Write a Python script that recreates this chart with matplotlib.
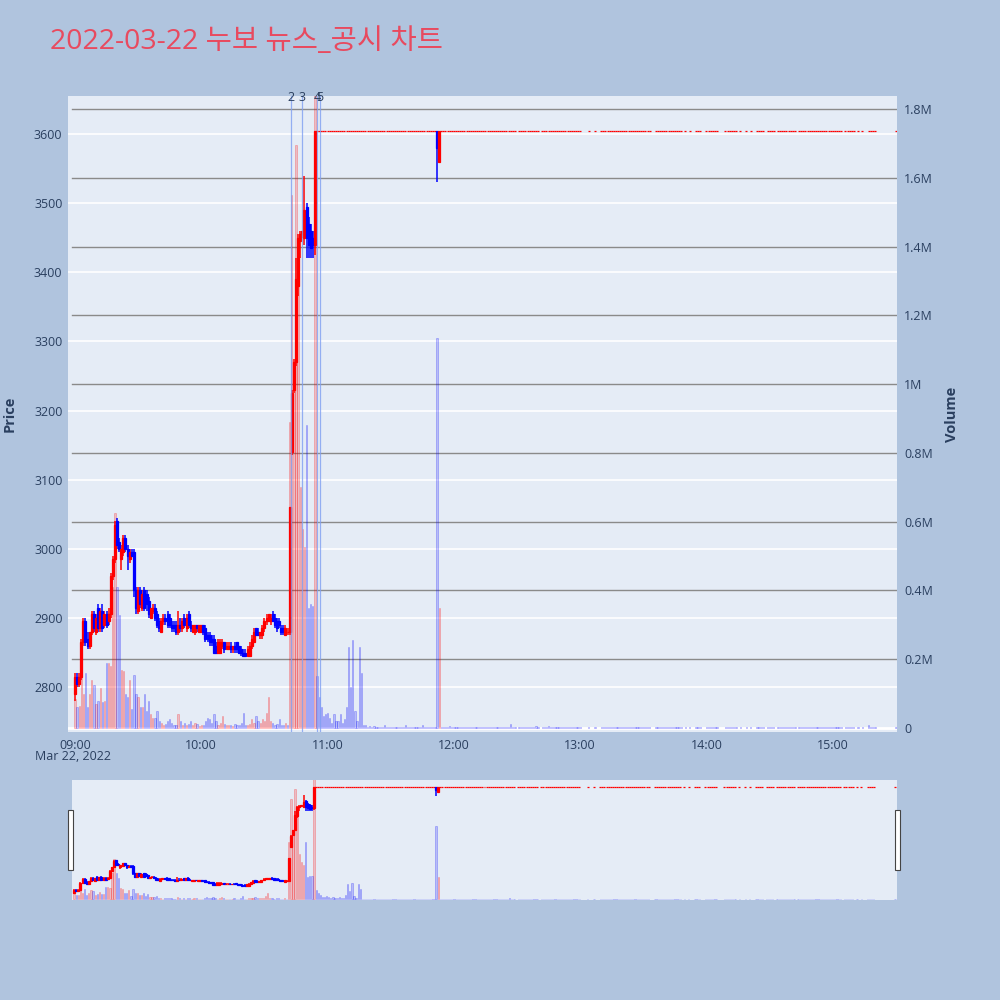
import numpy as np
import matplotlib
matplotlib.use('Agg')
import matplotlib.pyplot as plt
from matplotlib.patches import Rectangle
from matplotlib.lines import Line2D
from matplotlib.ticker import FuncFormatter
from matplotlib.transforms import blended_transform_factory

plt.rcParams['font.family'] = ['Open Sans', 'Noto Sans CJK KR', 'DejaVu Sans']

title = '2022-03-22 누보 뉴스_공시 차트'

# minute candles from 09:00 (open, high, low, close)
morning_ohlc = [
    (2790, 2820, 2780, 2815), (2815, 2820, 2800, 2805), (2805, 2820, 2800, 2815),
    (2815, 2870, 2810, 2865), (2865, 2900, 2860, 2895), (2895, 2900, 2860, 2865),
    (2870, 2880, 2855, 2860), (2860, 2880, 2855, 2880), (2880, 2910, 2875, 2905),
    (2905, 2910, 2880, 2885), (2880, 2905, 2875, 2900), (2915, 2920, 2880, 2885),
    (2885, 2915, 2880, 2910), (2910, 2920, 2880, 2885), (2890, 2910, 2885, 2905),
    (2905, 2910, 2885, 2890), (2895, 2915, 2890, 2905), (2905, 2965, 2900, 2960),
    (2960, 2990, 2955, 2985), (2985, 3040, 2980, 3035), (3040, 3045, 3000, 3005),
    (3010, 3015, 2995, 3000), (2985, 3005, 2970, 3000), (2995, 3020, 2990, 3015),
    (3015, 3020, 2995, 3000), (3000, 3005, 2970, 2990), (2985, 3000, 2980, 2995),
    (2995, 3000, 2990, 2990), (2995, 3000, 2930, 2940), (2940, 2945, 2905, 2915),
    (2910, 2945, 2905, 2940), (2940, 2945, 2915, 2920), (2915, 2940, 2910, 2935),
    (2940, 2945, 2910, 2915), (2935, 2940, 2910, 2920), (2925, 2930, 2900, 2905),
    (2900, 2915, 2900, 2915), (2910, 2920, 2905, 2915), (2915, 2920, 2895, 2900),
    (2905, 2910, 2885, 2890), (2895, 2900, 2880, 2885), (2880, 2900, 2880, 2895),
    (2895, 2905, 2890, 2900), (2900, 2905, 2890, 2895), (2905, 2910, 2885, 2890),
    (2900, 2905, 2885, 2890), (2890, 2895, 2880, 2885), (2890, 2895, 2880, 2885),
    (2890, 2895, 2875, 2880), (2880, 2910, 2875, 2890), (2890, 2900, 2880, 2885),
    (2885, 2900, 2880, 2895), (2900, 2905, 2885, 2890), (2885, 2905, 2880, 2900),
    (2905, 2910, 2885, 2890), (2890, 2895, 2880, 2885), (2880, 2890, 2880, 2890),
    (2880, 2890, 2875, 2890), (2890, 2890, 2880, 2885), (2880, 2890, 2880, 2890),
    (2880, 2890, 2880, 2890), (2890, 2890, 2875, 2880), (2885, 2890, 2865, 2870),
    (2875, 2880, 2865, 2870), (2875, 2880, 2860, 2865), (2870, 2875, 2860, 2865),
    (2870, 2875, 2850, 2850), (2860, 2865, 2850, 2850), (2850, 2870, 2850, 2865),
    (2850, 2870, 2850, 2865), (2860, 2870, 2855, 2865), (2865, 2865, 2850, 2855),
    (2855, 2865, 2855, 2860), (2855, 2865, 2855, 2860), (2860, 2865, 2850, 2855),
    (2855, 2860, 2850, 2860), (2860, 2865, 2850, 2855), (2865, 2865, 2850, 2855),
    (2860, 2860, 2850, 2850), (2855, 2860, 2845, 2850), (2850, 2855, 2845, 2845),
    (2850, 2855, 2845, 2845), (2845, 2860, 2845, 2855), (2845, 2865, 2845, 2860),
    (2860, 2875, 2855, 2870), (2865, 2885, 2865, 2880), (2885, 2885, 2875, 2875),
    (2880, 2885, 2875, 2875), (2875, 2880, 2870, 2880), (2875, 2890, 2870, 2885),
    (2885, 2900, 2880, 2895), (2895, 2905, 2890, 2900), (2895, 2905, 2895, 2905),
    (2895, 2905, 2890, 2900), (2905, 2910, 2895, 2895), (2900, 2905, 2885, 2890),
    (2895, 2900, 2880, 2885), (2895, 2900, 2885, 2890), (2885, 2890, 2875, 2880),
    (2885, 2890, 2875, 2880), (2875, 2890, 2875, 2885), (2880, 2885, 2875, 2880),
]
# volume in thousand shares
morning_vol = [
    85, 60, 65, 170, 100, 160, 60, 100, 140, 125, 70, 80, 115, 75, 80, 190, 190,
    180, 410, 625, 410, 330, 170, 165, 100, 90, 140, 55, 155, 100, 90, 60, 60,
    100, 50, 80, 40, 30, 30, 50, 20, 15, 10, 12, 20, 25, 15, 10, 8, 40, 20, 10,
    15, 8, 12, 20, 10, 15, 12, 5, 10, 8, 20, 30, 25, 15, 40, 20, 10, 15, 35, 12,
    10, 8, 10, 5, 12, 8, 10, 15, 45, 10, 8, 12, 25, 15, 35, 20, 15, 25, 20, 45,
    90, 20, 15, 10, 12, 25, 10, 8, 15, 10,
]

# 10:42 - 10:54 surge to the upper limit
spike_ohlc = [
    (2880, 3060, 2875, 3060), (3140, 3230, 3135, 3225), (3230, 3275, 3225, 3270),
    (3270, 3420, 3265, 3390), (3380, 3455, 3365, 3450), (3445, 3460, 3420, 3455),
    (3455, 3460, 3450, 3460), (3450, 3540, 3440, 3490), (3495, 3500, 3420, 3450),
    (3470, 3480, 3420, 3440), (3460, 3470, 3420, 3435), (3450, 3460, 3420, 3440),
    (3440, 3605, 3425, 3605),
]
spike_vol = [890, 1550, 1000, 1695, 1400, 700, 580, 525, 880, 350, 360, 355, 2000]

# trades at the upper limit afterwards (minute ranges from 09:00)
limit_price = 3605
limit_segments = [(115, 209), (211, 220), (222, 240), (244, 244), (247, 247),
                  (250, 273), (276, 288), (290, 290), (292, 292), (295, 297),
                  (300, 305), (309, 314), (316, 316), (319, 319), (321, 321),
                  (324, 327), (329, 332), (334, 342), (344, 364), (366, 370),
                  (372, 372), (374, 374), (377, 380), (390, 390)]
limit_vol = {115: 150, 116: 90, 117: 60, 118: 35, 119: 40, 120: 45, 121: 30,
             122: 15, 123: 40, 124: 20, 125: 20, 126: 40, 127: 15, 128: 25,
             129: 60, 130: 235, 131: 120, 132: 256, 133: 50, 134: 20, 135: 235,
             136: 160, 137: 10, 138: 8, 140: 5, 142: 6, 147: 10, 157: 8, 165: 8,
             178: 5, 207: 12, 219: 6, 225: 5, 377: 8}
small_vol = 2

# 11:52 dip off the limit
dip_minutes = [172, 173]
dip_ohlc = [(3605, 3605, 3530, 3580), (3560, 3605, 3560, 3605)]
dip_vol = [1134, 349]

news_minutes = [102.5, 107.8, 115.2, 116.5]
news_labels = ['2', '3', '4', '5']

hour_ticks = [0, 60, 120, 180, 240, 300, 360]
hour_labels = ['09:00', '10:00', '11:00', '12:00', '13:00', '14:00', '15:00']

# ---- assemble
t, o, h, l, c, v = [], [], [], [], [], []
for i, (a, b, d, e) in enumerate(morning_ohlc + spike_ohlc):
    t.append(i); o.append(a); h.append(b); l.append(d); c.append(e)
v += morning_vol + spike_vol
for s, e in limit_segments:
    for m in range(s, e + 1):
        if m in dip_minutes:
            continue
        t.append(m); o.append(limit_price); h.append(limit_price)
        l.append(limit_price); c.append(limit_price)
        v.append(limit_vol.get(m, small_vol))
for m, (a, b, d, e), vv in zip(dip_minutes, dip_ohlc, dip_vol):
    t.append(m); o.append(a); h.append(b); l.append(d); c.append(e); v.append(vv)

t = np.array(t, float); o = np.array(o, float); h = np.array(h, float)
l = np.array(l, float); c = np.array(c, float); v = np.array(v, float) * 1000

RED, BLUE = '#ff0000', '#0000ff'
candle_col = np.where(c >= o, RED, BLUE)
vol_up = c > o

PLOT_BG = '#E5ECF6'
FONT_C = '#2a3f5f'
P_LIM = (2735, 3655)
V_LIM = (-11600, 1838000)


def draw(axv, axp, xlim):
    axv.set_facecolor(PLOT_BG)
    for ax in (axv, axp):
        for sp in ax.spines.values():
            sp.set_visible(False)
        ax.set_xlim(*xlim)
    axp.set_ylim(*P_LIM)
    axv.set_ylim(*V_LIM)
    axv.bar(t[vol_up], v[vol_up], width=0.6, color=(1, 0, 0, 0.2),
            edgecolor=(1, 0, 0, 0.3), linewidth=0.5, zorder=2)
    axv.bar(t[~vol_up], v[~vol_up], width=0.6, color=(0, 0, 1, 0.2),
            edgecolor=(0, 0, 1, 0.3), linewidth=0.5, zorder=2)
    axp.vlines(t, l, h, colors=candle_col, linewidth=1.1, zorder=3)
    axp.bar(t, np.abs(c - o), bottom=np.minimum(o, c), width=0.95,
            color=candle_col, edgecolor=candle_col, linewidth=0.9, zorder=3)


fig = plt.figure(figsize=(10, 10), dpi=100, facecolor='#B0C4DE')

axv = fig.add_axes([0.068, 0.268, 0.829, 0.636])
axp = axv.twinx()
draw(axv, axp, (-3.3, 390.5))

# grid lines
trans_p = blended_transform_factory(axv.transAxes, axp.transData)
for p in range(2800, 3700, 100):
    axv.add_line(Line2D([0, 1], [p, p], transform=trans_p, color='white',
                        linewidth=1.2, zorder=0.5))
for g in np.arange(200000, 1900000, 200000):
    axv.axhline(g, xmin=0.005, xmax=1, color='#8a8a8a', linewidth=1, zorder=0.6)
axv.axhline(0, color='white', linewidth=2, zorder=0.6)

# price axis on the left, volume on the right
axp.yaxis.tick_left()
axp.yaxis.set_label_position('left')
axv.yaxis.tick_right()
axv.yaxis.set_label_position('right')
axp.set_yticks(range(2800, 3700, 100))
axv.set_yticks(np.arange(0, 1900000, 200000))
axv.yaxis.set_major_formatter(FuncFormatter(
    lambda x, pos: '0' if x == 0 else '%gM' % round(x / 1e6, 1)))
axp.tick_params(axis='y', length=0, pad=4, labelsize=9, labelcolor=FONT_C)
axv.tick_params(axis='y', length=0, pad=5, labelsize=9, labelcolor=FONT_C)
axv.set_xticks(hour_ticks)
axv.set_xticklabels(hour_labels)
axv.tick_params(axis='x', length=0, pad=5, labelsize=9, labelcolor=FONT_C)
axp.set_ylabel('Price', fontsize=10.5, fontweight='bold', color=FONT_C)
axp.yaxis.set_label_coords(-0.0615, 0.5)
axv.set_ylabel('Volume', fontsize=10.5, fontweight='bold', color=FONT_C,
               rotation=90)
axv.yaxis.set_label_coords(1.058, 0.5)
axv.text(-1, -0.039, 'Mar 22, 2022', transform=blended_transform_factory(
    axv.transData, axv.transAxes), ha='center', va='center', fontsize=9,
    color=FONT_C)

# news markers
for m, lab in zip(news_minutes, news_labels):
    axp.axvline(m, color='#7f9ff2', linewidth=0.9, alpha=0.8, zorder=4)
    axp.text(m, 0.998, lab, transform=blended_transform_factory(
        axp.transData, axp.transAxes), ha='center', va='center', fontsize=9,
        color=FONT_C, zorder=5)

fig.text(0.05, 0.958, title, fontsize=20.5, color='#e84a5f', ha='left',
         va='center')

# range slider
slv = fig.add_axes([0.072, 0.1, 0.825, 0.12])
slp = slv.twinx()
draw(slv, slp, (-1, 391))
for ax in (slv, slp):
    ax.set_xticks([])
    ax.set_yticks([])
for x0 in (0.068, 0.895):
    fig.patches.append(Rectangle((x0, 0.13), 0.005, 0.06, transform=fig.transFigure,
                                 facecolor='white', edgecolor='#444444',
                                 linewidth=0.8))

fig.savefig('out.png', dpi=100, facecolor=fig.get_facecolor())
